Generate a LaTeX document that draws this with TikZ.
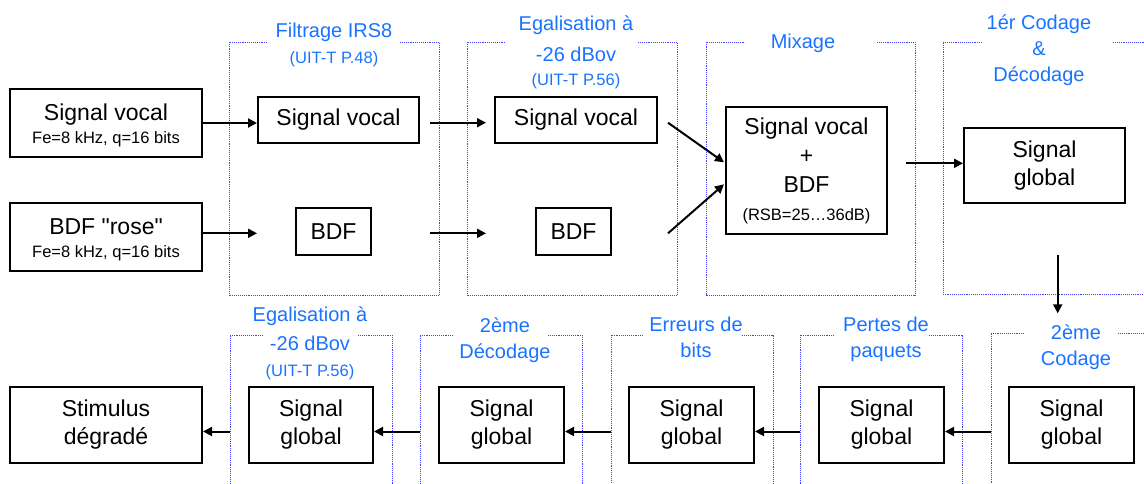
\documentclass[tikz,border=0pt]{standalone}
\usepackage{fontspec}
\setmainfont{Liberation Sans}
\newfontfamily\droit{Liberation Sans}
\usetikzlibrary{arrows.meta}
\definecolor{grpblue}{rgb}{0.25,0.25,1.0}
\definecolor{ttlblue}{rgb}{0.1,0.45,1.0}
\newcommand{\petit}{\fontsize{16.5}{19}\selectfont}

\begin{document}
\begin{tikzpicture}[x=1pt,y=-1pt,
  box/.style={draw, line width=2pt, align=center, inner sep=0pt, font=\fontsize{23}{28}\selectfont},
  grp/.style={grpblue, densely dotted, line width=0.9pt},
  ttl/.style={text=ttlblue, align=center, anchor=north, inner sep=0pt, font=\fontsize{20}{26}\selectfont},
  fl/.style={->, >={Triangle[length=9pt,width=9pt]}, line width=2pt}]
\clip (0,0) rectangle (1144,483);

% groupes (haut)
\draw [grp] (400,42) -| (439,295) -| (229,42) -- (268,42);
\draw [grp] (638,42) -| (677,295) -| (467,42) -- (506,42);
\draw [grp] (877,42) -| (915,295) -| (706,42) -- (744,42);
\draw [grp] (1113,42) -- (1150,42) (982,42) -| (943,294) -- (1150,294);
% groupes (bas)
\draw [grp] (263,335) -| (230,490) (358,335) -| (392,490);
\draw [grp] (453,335) -| (420,490) (548,335) -| (582,490);
\draw [grp] (643,335) -| (611,490) (742,335) -| (773,490);
\draw [grp] (834,335) -| (800,490) (929,335) -| (962,490);
\draw [grp] (1024,333) -| (991,490) (1118,333) -- (1150,333);

% titres
\node [ttl] (tfilt) at (334,23) {Filtrage IRS8\\{\petit (UIT-T P.48)}};
\node [ttl] (tegal) at (576,16) {Egalisation à\\[5pt]-26 dBov\\[-2pt]{\petit (UIT-T P.56)}};
\node [ttl] (tmix) at (803,34) {Mixage};
\node [ttl] (tcod) at (1039,15) {1ér Codage\\\&\\Décodage};
\node [ttl] (tegal2) at (310,307) {Egalisation à\\[3pt]-26 dBov\\{\petit (UIT-T P.56)}};
\node [ttl] (tdec) at (505,318) {2ème\\Décodage};
\node [ttl] (terr) at (696,317) {Erreurs de\\bits};
\node [ttl] (tpert) at (886,317) {Pertes de\\paquets};
\node [ttl] (tcod2) at (1076,325) {2ème\\Codage};

% blocs
\node [box, minimum width=192, minimum height=68] (in1) at (106,123) {\rule{0pt}{22pt}Signal vocal\\[-5pt]{\petit Fe=8 kHz, q=16 bits}};
\node [box, minimum width=192, minimum height=68] (in2) at (106,237) {\rule{0pt}{22pt}BDF {\droit"}rose{\droit"}\\[-5pt]{\petit Fe=8 kHz, q=16 bits}};
\node [box, minimum width=161, minimum height=46] (f1) at (338.5,120) {Signal vocal};
\node [box, minimum width=75, minimum height=47] (f2) at (333.5,231.5) {BDF};
\node [box, minimum width=162, minimum height=46] (e1) at (576,120) {Signal vocal};
\node [box, minimum width=75, minimum height=47] (e2) at (573.5,231.5) {BDF};
\node [box, minimum width=161, minimum height=127] (mix) at (806.5,170.5) {Signal vocal\\[1pt]+\\[1pt]BDF\\{\petit (RSB=25…36dB)}};
\node [box, minimum width=161, minimum height=75] (cod1) at (1044.5,165.5) {Signal\\global};
\node [box, minimum width=192, minimum height=76] (stim) at (106,425) {Stimulus\\dégradé};
\node [box, minimum width=124, minimum height=76] (egal2) at (311,425) {Signal\\global};
\node [box, minimum width=125, minimum height=76] (dec2) at (501.5,425) {Signal\\global};
\node [box, minimum width=125, minimum height=76] (err) at (691.5,425) {Signal\\global};
\node [box, minimum width=125, minimum height=76] (pert) at (881.5,425) {Signal\\global};
\node [box, minimum width=125, minimum height=76] (cod2) at (1071.5,425) {Signal\\global};

% points libres
\coordinate (fo1) at (430,122.7); \coordinate (ei1) at (486,122.7);
\coordinate (fo2) at (430,233.3); \coordinate (ei2) at (486,233.3);
\coordinate (eo1) at (668,122.7); \coordinate (mi1) at (724,162.3);
\coordinate (eo2) at (668,233.3); \coordinate (mi2) at (724,184.3);
\coordinate (mo) at (906,163.3);
\coordinate (co1) at (1057.7,255); \coordinate (ci2) at (1057.7,313.3);
\coordinate (g5) at (991,431.5); \coordinate (g4) at (800,431.5);
\coordinate (g3) at (611,431.5); \coordinate (g2) at (420,431.5);
\coordinate (g1) at (230,431.5);

% fleches
\draw [fl] (in1.east) -- (in1.east -| f1.west);
\draw [fl] (in2.east |- fo2) -- (fo2 -| f1.west);
\draw [fl] (fo1) -- (ei1);
\draw [fl] (fo2) -- (ei2);
\draw [fl] (eo1) -- (mi1);
\draw [fl] (eo2) -- (mi2);
\draw [fl] (mo) -- (mo -| cod1.west);
\draw [fl] (co1) -- (ci2);
\draw [fl] (g5) -- (g5 -| pert.east);
\draw [fl] (g4) -- (g4 -| err.east);
\draw [fl] (g3) -- (g3 -| dec2.east);
\draw [fl] (g2) -- (g2 -| egal2.east);
\draw [fl] (g1) -- (g1 -| stim.east);
\end{tikzpicture}
\end{document}
